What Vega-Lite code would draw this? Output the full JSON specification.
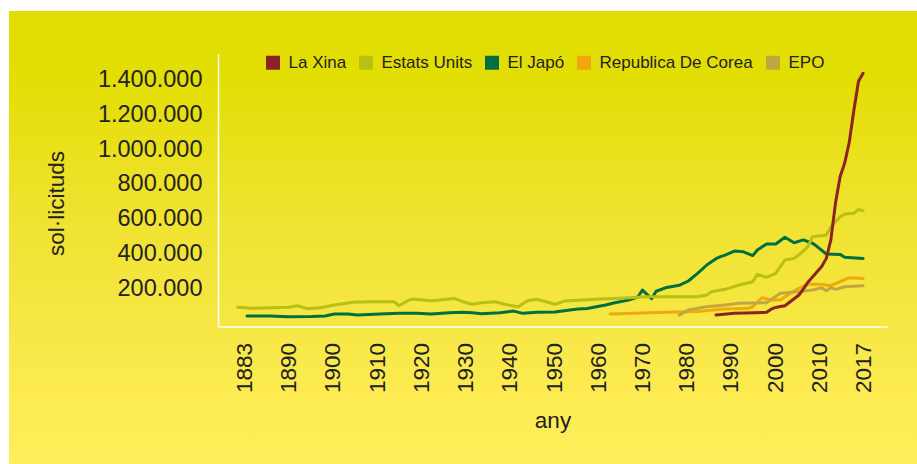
{
  "$schema": "https://vega.github.io/schema/vega-lite/v6.json",
  "width": 908,
  "height": 453,
  "autosize": {"type": "none"},
  "padding": {"left": 9, "top": 11, "right": 0, "bottom": 0},
  "background": "white",
  "config": {
    "font": "Liberation Sans",
    "view": {
      "stroke": null,
      "fill": {
        "gradient": "linear", "x1": 0, "y1": 0, "x2": 0, "y2": 1,
        "stops": [
          {"offset": 0, "color": "#e1dd00"},
          {"offset": 0.15, "color": "#e3de04"},
          {"offset": 0.42, "color": "#efe22c"},
          {"offset": 0.64, "color": "#f5e640"},
          {"offset": 0.86, "color": "#fdeb52"},
          {"offset": 1, "color": "#ffee5a"}
        ]
      }
    }
  },
  "data": {"values": [
    {"country": "El Japó", "year": 1883, "value": 41000},
    {"country": "El Japó", "year": 1888, "value": 41000},
    {"country": "El Japó", "year": 1892, "value": 37000},
    {"country": "El Japó", "year": 1897, "value": 38000},
    {"country": "El Japó", "year": 1900, "value": 41000},
    {"country": "El Japó", "year": 1902, "value": 52000},
    {"country": "El Japó", "year": 1905, "value": 52000},
    {"country": "El Japó", "year": 1907, "value": 47000},
    {"country": "El Japó", "year": 1912, "value": 52000},
    {"country": "El Japó", "year": 1916, "value": 56000},
    {"country": "El Japó", "year": 1920, "value": 56000},
    {"country": "El Japó", "year": 1923, "value": 52000},
    {"country": "El Japó", "year": 1927, "value": 60000},
    {"country": "El Japó", "year": 1930, "value": 62000},
    {"country": "El Japó", "year": 1932, "value": 60000},
    {"country": "El Japó", "year": 1934, "value": 54000},
    {"country": "El Japó", "year": 1938, "value": 60000},
    {"country": "El Japó", "year": 1941, "value": 69000},
    {"country": "El Japó", "year": 1943, "value": 56000},
    {"country": "El Japó", "year": 1946, "value": 62000},
    {"country": "El Japó", "year": 1950, "value": 64000},
    {"country": "El Japó", "year": 1952, "value": 71000},
    {"country": "El Japó", "year": 1955, "value": 81000},
    {"country": "El Japó", "year": 1957, "value": 84000},
    {"country": "El Japó", "year": 1959, "value": 94000},
    {"country": "El Japó", "year": 1961, "value": 104000},
    {"country": "El Japó", "year": 1963, "value": 117000},
    {"country": "El Japó", "year": 1966, "value": 133000},
    {"country": "El Japó", "year": 1968, "value": 150000},
    {"country": "El Japó", "year": 1969, "value": 190000},
    {"country": "El Japó", "year": 1970, "value": 165000},
    {"country": "El Japó", "year": 1971, "value": 140000},
    {"country": "El Japó", "year": 1972, "value": 183000},
    {"country": "El Japó", "year": 1974, "value": 203000},
    {"country": "El Japó", "year": 1977, "value": 217000},
    {"country": "El Japó", "year": 1979, "value": 242000},
    {"country": "El Japó", "year": 1981, "value": 286000},
    {"country": "El Japó", "year": 1983, "value": 334000},
    {"country": "El Japó", "year": 1985, "value": 370000},
    {"country": "El Japó", "year": 1986, "value": 382000},
    {"country": "El Japó", "year": 1987, "value": 391000},
    {"country": "El Japó", "year": 1989, "value": 414000},
    {"country": "El Japó", "year": 1991, "value": 410000},
    {"country": "El Japó", "year": 1993, "value": 388000},
    {"country": "El Japó", "year": 1994, "value": 420000},
    {"country": "El Japó", "year": 1996, "value": 455000},
    {"country": "El Japó", "year": 1998, "value": 455000},
    {"country": "El Japó", "year": 2000, "value": 493000},
    {"country": "El Japó", "year": 2002, "value": 462000},
    {"country": "El Japó", "year": 2004, "value": 478000},
    {"country": "El Japó", "year": 2006, "value": 459000},
    {"country": "El Japó", "year": 2007, "value": 440000},
    {"country": "El Japó", "year": 2009, "value": 397000},
    {"country": "El Japó", "year": 2012, "value": 395000},
    {"country": "El Japó", "year": 2013, "value": 378000},
    {"country": "El Japó", "year": 2017, "value": 372000},

    {"country": "Estats Units", "year": 1881, "value": 91000},
    {"country": "Estats Units", "year": 1884, "value": 85000},
    {"country": "Estats Units", "year": 1892, "value": 91000},
    {"country": "Estats Units", "year": 1894, "value": 100000},
    {"country": "Estats Units", "year": 1896, "value": 83000},
    {"country": "Estats Units", "year": 1899, "value": 88000},
    {"country": "Estats Units", "year": 1902, "value": 104000},
    {"country": "Estats Units", "year": 1906, "value": 120000},
    {"country": "Estats Units", "year": 1910, "value": 123000},
    {"country": "Estats Units", "year": 1915, "value": 123000},
    {"country": "Estats Units", "year": 1916, "value": 100000},
    {"country": "Estats Units", "year": 1918, "value": 129000},
    {"country": "Estats Units", "year": 1919, "value": 138000},
    {"country": "Estats Units", "year": 1923, "value": 129000},
    {"country": "Estats Units", "year": 1925, "value": 133000},
    {"country": "Estats Units", "year": 1928, "value": 142000},
    {"country": "Estats Units", "year": 1930, "value": 123000},
    {"country": "Estats Units", "year": 1932, "value": 108000},
    {"country": "Estats Units", "year": 1934, "value": 117000},
    {"country": "Estats Units", "year": 1937, "value": 123000},
    {"country": "Estats Units", "year": 1939, "value": 108000},
    {"country": "Estats Units", "year": 1942, "value": 94000},
    {"country": "Estats Units", "year": 1944, "value": 129000},
    {"country": "Estats Units", "year": 1946, "value": 137000},
    {"country": "Estats Units", "year": 1948, "value": 123000},
    {"country": "Estats Units", "year": 1950, "value": 108000},
    {"country": "Estats Units", "year": 1952, "value": 127000},
    {"country": "Estats Units", "year": 1956, "value": 133000},
    {"country": "Estats Units", "year": 1960, "value": 138000},
    {"country": "Estats Units", "year": 1966, "value": 146000},
    {"country": "Estats Units", "year": 1970, "value": 152000},
    {"country": "Estats Units", "year": 1981, "value": 152000},
    {"country": "Estats Units", "year": 1983, "value": 161000},
    {"country": "Estats Units", "year": 1984, "value": 180000},
    {"country": "Estats Units", "year": 1987, "value": 194000},
    {"country": "Estats Units", "year": 1990, "value": 219000},
    {"country": "Estats Units", "year": 1993, "value": 238000},
    {"country": "Estats Units", "year": 1994, "value": 280000},
    {"country": "Estats Units", "year": 1996, "value": 263000},
    {"country": "Estats Units", "year": 1998, "value": 286000},
    {"country": "Estats Units", "year": 2000, "value": 363000},
    {"country": "Estats Units", "year": 2002, "value": 372000},
    {"country": "Estats Units", "year": 2003, "value": 391000},
    {"country": "Estats Units", "year": 2005, "value": 440000},
    {"country": "Estats Units", "year": 2006, "value": 497000},
    {"country": "Estats Units", "year": 2008, "value": 502000},
    {"country": "Estats Units", "year": 2009, "value": 506000},
    {"country": "Estats Units", "year": 2010, "value": 554000},
    {"country": "Estats Units", "year": 2012, "value": 611000},
    {"country": "Estats Units", "year": 2013, "value": 627000},
    {"country": "Estats Units", "year": 2015, "value": 631000},
    {"country": "Estats Units", "year": 2016, "value": 654000},
    {"country": "Estats Units", "year": 2017, "value": 646000},

    {"country": "Republica De Corea", "year": 1962, "value": 52000},
    {"country": "Republica De Corea", "year": 1967, "value": 56000},
    {"country": "Republica De Corea", "year": 1974, "value": 62000},
    {"country": "Republica De Corea", "year": 1981, "value": 66000},
    {"country": "Republica De Corea", "year": 1986, "value": 79000},
    {"country": "Republica De Corea", "year": 1992, "value": 85000},
    {"country": "Republica De Corea", "year": 1993, "value": 94000},
    {"country": "Republica De Corea", "year": 1995, "value": 146000},
    {"country": "Republica De Corea", "year": 1997, "value": 133000},
    {"country": "Republica De Corea", "year": 1999, "value": 133000},
    {"country": "Republica De Corea", "year": 2000, "value": 152000},
    {"country": "Republica De Corea", "year": 2003, "value": 200000},
    {"country": "Republica De Corea", "year": 2005, "value": 223000},
    {"country": "Republica De Corea", "year": 2008, "value": 223000},
    {"country": "Republica De Corea", "year": 2010, "value": 215000},
    {"country": "Republica De Corea", "year": 2012, "value": 238000},
    {"country": "Republica De Corea", "year": 2014, "value": 261000},
    {"country": "Republica De Corea", "year": 2017, "value": 257000},

    {"country": "EPO", "year": 1977, "value": 46000},
    {"country": "EPO", "year": 1979, "value": 75000},
    {"country": "EPO", "year": 1983, "value": 94000},
    {"country": "EPO", "year": 1987, "value": 104000},
    {"country": "EPO", "year": 1990, "value": 114000},
    {"country": "EPO", "year": 1996, "value": 117000},
    {"country": "EPO", "year": 1999, "value": 171000},
    {"country": "EPO", "year": 2003, "value": 180000},
    {"country": "EPO", "year": 2006, "value": 190000},
    {"country": "EPO", "year": 2008, "value": 203000},
    {"country": "EPO", "year": 2009, "value": 186000},
    {"country": "EPO", "year": 2010, "value": 203000},
    {"country": "EPO", "year": 2011, "value": 194000},
    {"country": "EPO", "year": 2013, "value": 209000},
    {"country": "EPO", "year": 2017, "value": 215000},

    {"country": "La Xina", "year": 1985, "value": 47000},
    {"country": "La Xina", "year": 1989, "value": 56000},
    {"country": "La Xina", "year": 1996, "value": 62000},
    {"country": "La Xina", "year": 1997, "value": 80000},
    {"country": "La Xina", "year": 1998, "value": 90000},
    {"country": "La Xina", "year": 1999, "value": 95000},
    {"country": "La Xina", "year": 2000, "value": 100000},
    {"country": "La Xina", "year": 2001, "value": 120000},
    {"country": "La Xina", "year": 2002, "value": 140000},
    {"country": "La Xina", "year": 2003, "value": 160000},
    {"country": "La Xina", "year": 2004, "value": 195000},
    {"country": "La Xina", "year": 2005, "value": 235000},
    {"country": "La Xina", "year": 2006, "value": 265000},
    {"country": "La Xina", "year": 2007, "value": 295000},
    {"country": "La Xina", "year": 2008, "value": 325000},
    {"country": "La Xina", "year": 2009, "value": 372000},
    {"country": "La Xina", "year": 2010, "value": 480000},
    {"country": "La Xina", "year": 2011, "value": 690000},
    {"country": "La Xina", "year": 2012, "value": 841000},
    {"country": "La Xina", "year": 2013, "value": 920000},
    {"country": "La Xina", "year": 2014, "value": 1040000},
    {"country": "La Xina", "year": 2015, "value": 1225000},
    {"country": "La Xina", "year": 2016, "value": 1390000},
    {"country": "La Xina", "year": 2017, "value": 1436000}
  ]},
  "mark": {"type": "line", "strokeWidth": 3, "strokeCap": "round", "strokeJoin": "round", "clip": false},
  "encoding": {
    "x": {
      "field": "year", "type": "quantitative",
      "scale": {"domain": [1876.7, 2022.2], "range": [209, 878], "nice": false, "zero": false},
      "axis": {
        "title": "any", "orient": "bottom", "offset": -137.5,
        "values": [1882.48, 1892.09, 1901.71, 1911.32, 1920.94, 1930.55, 1940.17, 1949.78, 1959.4, 1969.01, 1978.63, 1988.24, 1997.86, 2007.47, 2017.09],
        "labelExpr": "['1883','1890','1900','1910','1920','1930','1940','1950','1960','1970','1980','1990','2000','2010','2017'][round((datum.value-1882.48)/9.615)]",
        "labelAngle": -90, "ticks": false, "grid": false,
        "domainColor": "white", "domainWidth": 1.5,
        "labelFontSize": 22.5, "labelColor": "#222", "labelPadding": 16,
        "labelFlush": false, "labelOverlap": false, "labelBound": false,
        "titleFontSize": 22.5, "titleFontWeight": "normal", "titleColor": "#222",
        "titleY": 101, "titleBaseline": "alphabetic"
      }
    },
    "y": {
      "field": "value", "type": "quantitative",
      "scale": {"domain": [-19500, 1546600], "range": [315.5, 43], "nice": false, "zero": false},
      "axis": {
        "title": "sol·licituds", "orient": "left", "offset": -209,
        "values": [200000, 400000, 600000, 800000, 1000000, 1200000, 1400000],
        "labelExpr": "replace(format(datum.value, ','), regexp(',', 'g'), '.')",
        "ticks": false, "grid": false,
        "domainColor": "white", "domainWidth": 1.5,
        "labelFontSize": 23.5, "labelColor": "#222", "labelPadding": 16,
        "titleFontSize": 22.5, "titleFontWeight": "normal", "titleColor": "#222",
        "titleX": -155, "titleY": 192, "titleBaseline": "alphabetic", "titleAngle": -90, "titleAlign": "center"
      }
    },
    "color": {
      "field": "country", "type": "nominal",
      "scale": {
        "domain": ["La Xina", "Estats Units", "El Japó", "Republica De Corea", "EPO"],
        "range": ["#8b2323", "#b9c014", "#007040", "#f0a810", "#c4a640"]
      },
      "legend": {
        "title": null, "orient": "none", "legendX": 255.5, "legendY": 43,
        "direction": "horizontal", "symbolType": "square", "symbolSize": 196,
        "symbolStrokeWidth": 0, "labelFontSize": 17, "labelColor": "#222",
        "labelOffset": 7, "columnPadding": 11, "padding": 0,
        "encode": {"symbols": {"update": {"fill": {"scale": "color", "field": "value"}, "fillOpacity": {"value": 1}, "strokeWidth": {"value": 0}}}}
      }
    }
  }
}
